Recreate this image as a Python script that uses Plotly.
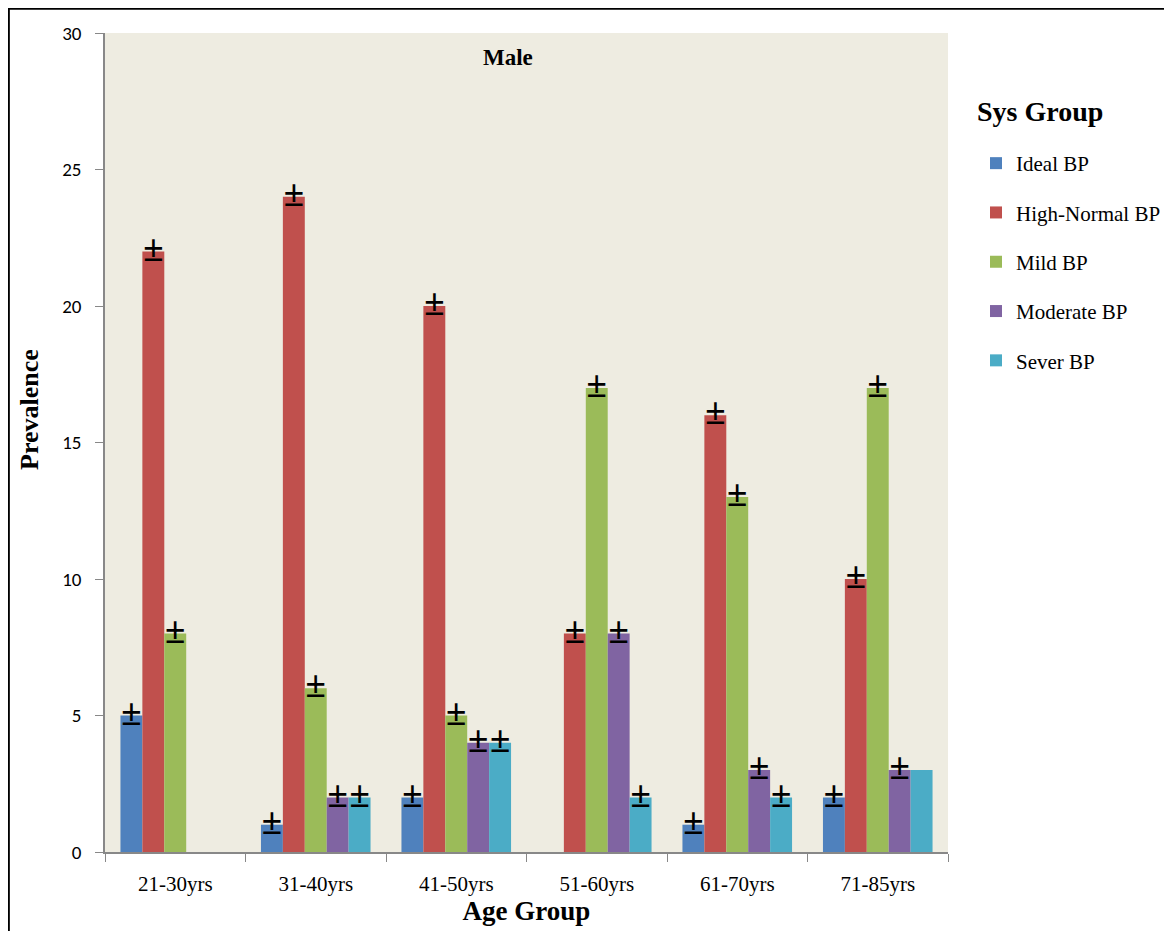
import plotly.graph_objects as go

categories = ["21-30yrs", "31-40yrs", "41-50yrs", "51-60yrs", "61-70yrs", "71-85yrs"]
series_names = ["Ideal BP", "High-Normal BP", "Mild BP", "Moderate BP", "Sever BP"]
ideal = [5, 1, 2, 0, 1, 2]
high_normal = [22, 24, 20, 8, 16, 10]
mild = [8, 6, 5, 17, 13, 17]
moderate = [0, 2, 4, 8, 3, 3]
severe = [0, 2, 4, 2, 2, 3]
# whether a "±" mark is drawn over each bar
ideal_pm = [1, 1, 1, 0, 1, 1]
high_pm = [1, 1, 1, 1, 1, 1]
mild_pm = [1, 1, 1, 1, 1, 1]
moderate_pm = [0, 1, 1, 1, 1, 1]
severe_pm = [0, 1, 1, 1, 1, 0]

colors = ["#4F81BD", "#C0504D", "#9BBB59", "#8064A2", "#4BACC6"]
values = [ideal, high_normal, mild, moderate, severe]
pms = [ideal_pm, high_pm, mild_pm, moderate_pm, severe_pm]

SERIF = "Liberation Serif, Times New Roman, serif"
L, R, T, B = 97, 232, 25, 87
PW, PH = 1172 - L - R, 931 - T - B

fig = go.Figure()
for i, (name, vals, col) in enumerate(zip(series_names, values, colors)):
    fig.add_trace(go.Bar(
        x=categories, y=vals, name=name, marker_color=col,
        marker_line_width=0, offsetgroup=str(i), legendgroup=str(i),
    ))
for i, (vals, pm) in enumerate(zip(values, pms)):
    fig.add_trace(go.Scatter(
        x=categories, y=vals, mode="text",
        text=["<b>±</b>" if p else "" for p in pm],
        textposition="middle center",
        textfont=dict(family=SERIF, size=37, color="black"),
        offsetgroup=str(i), showlegend=False, hoverinfo="skip",
    ))

fig.update_layout(
    width=1172, height=931,
    barmode="group", scattermode="group",
    bargap=0.22, bargroupgap=0,
    plot_bgcolor="#EEECE1", paper_bgcolor="white",
    margin=dict(l=L, r=R, t=T, b=B),
    font=dict(family=SERIF, size=16, color="black"),
    legend=dict(
        x=1 + 28 / PW, xanchor="left", y=1 - 110 / PH, yanchor="top",
        font=dict(family=SERIF, size=21), tracegroupgap=19,
        bgcolor="rgba(0,0,0,0)", itemwidth=30,
    ),
    showlegend=True,
    annotations=[
        dict(text="<b>Male</b>", x=0.478, y=1 - 24 / PH, xref="paper", yref="paper",
             xanchor="center", yanchor="middle",
             showarrow=False, font=dict(family=SERIF, size=23)),
        dict(text="<b>Sys Group</b>", x=1 + 27 / PW, y=1 - 79 / PH, xref="paper", yref="paper",
             xanchor="left", yanchor="middle", showarrow=False,
             font=dict(family=SERIF, size=28)),
        dict(text="<b>Prevalence</b>", x=-75 / PW, y=1 - 377 / PH, xref="paper", yref="paper",
             xanchor="center", yanchor="middle", textangle=-90, showarrow=False,
             font=dict(family=SERIF, size=26)),
    ],
    shapes=[dict(type="rect", xref="paper", yref="paper",
                 x0=-L / PW + 0.001, x1=1 + (R + 20) / PW, y0=-(B + 20) / PH, y1=1 + T / PH - 0.001,
                 line=dict(color="black", width=2), layer="below")],
)
fig.update_xaxes(
    title=dict(text="<b>Age Group</b>", font=dict(family=SERIF, size=27), standoff=2),
    showline=True, linecolor="#888888", linewidth=1.5,
    ticks="outside", tickson="boundaries", ticklen=8, tickcolor="#888888",
    ticklabelstandoff=12,
    tickfont=dict(family=SERIF, size=21), showgrid=False,
)
fig.update_yaxes(
    range=[0, 30], dtick=5, showline=True, linecolor="#888888", linewidth=1.5,
    ticks="outside", ticklen=8, tickcolor="#888888", showgrid=False, zeroline=False,
    ticklabelstandoff=10,
    tickfont=dict(family="Carlito, Open Sans, Liberation Sans, sans-serif", size=19),
)
fig.write_html("out.html")
